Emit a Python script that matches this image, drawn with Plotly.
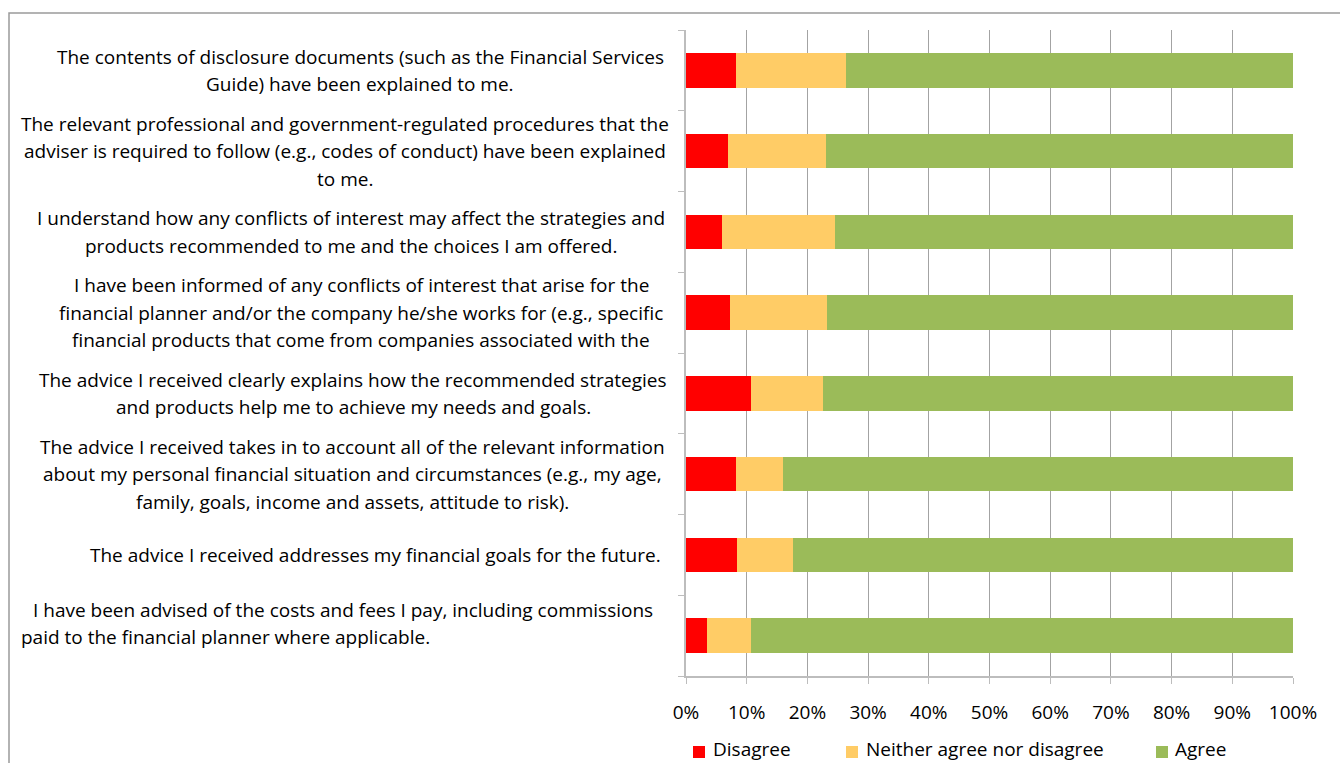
import plotly.graph_objects as go

# Survey statements (line breaks mark how each label wraps)
categories = [
    "The contents of disclosure documents (such as the Financial Services<br>Guide) have been explained to me.",
    "The relevant professional and government-regulated procedures that the<br>adviser is required to follow (e.g., codes of conduct) have been explained<br>to me.",
    "I understand how any conflicts of interest may affect the strategies and<br>products recommended to me and the choices I am offered.",
    "I have been informed of any conflicts of interest that arise for the<br>financial planner and/or the company he/she works for (e.g., specific<br>financial products that come from companies associated with the",
    "The advice I received clearly explains how the recommended strategies<br>and products help me to achieve my needs and goals.",
    "The advice I received takes in to account all of the relevant information<br>about my personal financial situation and circumstances (e.g., my age,<br>family, goals, income and assets, attitude to risk).",
    "The advice I received addresses my financial goals for the future.",
    "I have been advised of the costs and fees I pay, including commissions<br>paid to the financial planner where applicable.",
]

# Share of respondents (%) per response
disagree = [8.2, 6.9, 5.9, 7.2, 10.7, 8.2, 8.4, 3.4]
neither = [18.1, 16.2, 18.7, 16.0, 11.9, 7.8, 9.3, 7.3]
agree = [73.7, 76.9, 75.4, 76.8, 77.4, 84.0, 82.3, 89.3]

series_names = ["Disagree", "Neither agree nor disagree", "Agree"]
series_colors = ["#FF0000", "#FFCC66", "#9BBB59"]

x_ticks = list(range(0, 101, 10))
x_tick_labels = [f"{v}%" for v in x_ticks]

# ---- page geometry (pixels) ----
W, H = 1340, 763
PL, PR, PT, PB = 686, 1293, 30, 676  # plot area edges


def px_x(px):
    return (px - PL) / (PR - PL)


def px_y(py):
    return (PB - py) / (PB - PT)


FONT = "Open Sans"
FSIZE = 19
GRID = "#a3a3a3"
AXIS = "#bdbdbd"

fig = go.Figure()
positions = list(range(len(categories)))
for name, vals, col in zip(series_names, [disagree, neither, agree], series_colors):
    fig.add_trace(go.Bar(
        y=positions, x=vals, name=name, orientation="h",
        marker=dict(color=col, line=dict(width=0)),
        showlegend=False, hoverinfo="x+name",
    ))

# Category labels, one annotation per wrapped line
label_center_px = [360, 345, 351, 361, 353, 352, 375, None]
last_label_left_px = [31, 19]
LINE_STEP = 27.5
annotations = []
for i, text in enumerate(categories):
    lines = text.split("<br>")
    n = len(lines)
    extra = 12 if label_center_px[i] is None else 0
    for k, line in enumerate(lines):
        shift = ((n - 1) / 2 - k) * LINE_STEP + extra
        if label_center_px[i] is None:
            xa, xanchor = px_x(last_label_left_px[k]), "left"
        else:
            xa, xanchor = px_x(label_center_px[i]), "center"
        annotations.append(dict(
            x=xa, xref="paper", y=i, yref="y", yshift=shift,
            text=line, showarrow=False, xanchor=xanchor, yanchor="middle",
            font=dict(family=FONT, size=FSIZE, color="#000000"),
        ))

# Legend drawn along the bottom
legend_sq_px = [693, 846, 1156]
legend_txt_px = [711, 864, 1173]
LEG_Y = 749
shapes = []
for name, col, sx, tx in zip(series_names, series_colors, legend_sq_px, legend_txt_px):
    shapes.append(dict(
        type="rect", xref="paper", yref="paper",
        x0=px_x(sx), x1=px_x(sx + 12), y0=px_y(LEG_Y + 9), y1=px_y(LEG_Y - 3),
        fillcolor=col, line=dict(width=0),
    ))
    annotations.append(dict(
        x=px_x(tx), xref="paper", y=px_y(LEG_Y), yref="paper",
        text=name, showarrow=False, xanchor="left", yanchor="middle",
        font=dict(family=FONT, size=FSIZE, color="#000000"),
    ))

# Chart frame
shapes.append(dict(
    type="rect", xref="paper", yref="paper",
    x0=px_x(9), x1=px_x(W + 10), y0=px_y(H + 10), y1=px_y(13),
    line=dict(color="#9a9a9a", width=1.5), fillcolor="rgba(0,0,0,0)", layer="below",
))

fig.update_layout(
    width=W, height=H,
    margin=dict(l=PL, r=W - PR, t=PT, b=H - PB, pad=0),
    barmode="stack", bargap=0.57,
    plot_bgcolor="white", paper_bgcolor="white",
    font=dict(family=FONT, size=FSIZE, color="#000000"),
    xaxis=dict(
        range=[0, 100], tickvals=x_ticks, ticktext=x_tick_labels,
        showgrid=True, gridcolor=GRID, gridwidth=1,
        showline=True, linecolor=AXIS, linewidth=1.5,
        ticks="outside", ticklen=6, tickcolor=AXIS, tickwidth=1,
        ticklabelstandoff=12, zeroline=False,
        tickfont=dict(family=FONT, size=FSIZE, color="#000000"),
        fixedrange=True,
    ),
    yaxis=dict(
        range=[len(categories) - 0.5, -0.5],
        tickvals=[i - 0.5 for i in range(len(categories) + 1)],
        showticklabels=False, showgrid=False, zeroline=False,
        showline=True, linecolor=AXIS, linewidth=1.5,
        ticks="outside", ticklen=6, tickcolor=AXIS, tickwidth=1,
        fixedrange=True,
    ),
    annotations=annotations,
    shapes=shapes,
    showlegend=False,
)

fig.write_html("out.html", config={"displayModeBar": False})
